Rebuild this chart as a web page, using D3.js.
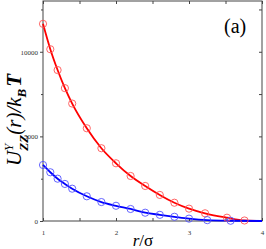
<!DOCTYPE html>
<html><head><meta charset="utf-8">
<script src="https://cdn.jsdelivr.net/npm/d3@7"></script>
<style>body{margin:0;background:#fff}svg{display:block}</style>
</head><body>
<svg id="c" width="266" height="249"></svg>
<script>
const rRed = [1.0,1.1,1.2,1.3,1.4,1.6,1.8,2.0,2.2,2.4,2.6,2.8,3.0,3.22,3.52,3.76];
const uRed = [11650,10150,8920,7850,6940,5480,4300,3410,2660,2070,1540,1080,730,455,195,30];
const rBlue = [1.0,1.1,1.2,1.3,1.4,1.6,1.8,2.0,2.2,2.4,2.6,2.8,3.0,3.25,3.57];
const uBlue = [3310,2880,2500,2190,1910,1460,1120,900,710,490,365,250,140,50,15];
const lineEndR = 4.0, lineEndRedU = 0, lineEndBlueU = 0;
const xTicks = [1,2,3,4];
const yTicks = [0,5000,10000];
const panelLabel = "(a)";

const svg = d3.select("#c");
const L=43,R=262,T=1,B=221;
const x = d3.scaleLinear().domain([1,4]).range([L,R]);
const y = d3.scaleLinear().domain([0,13000]).range([B,T]);
const ax = "#444";
const serif = "Liberation Serif";

svg.append("rect").attr("x",L).attr("y",T).attr("width",R-L).attr("height",B-T)
  .attr("fill","none").attr("stroke",ax).attr("stroke-width",1);

const gl = svg.append("g").attr("transform",`translate(${L},0)`)
  .call(d3.axisLeft(y).tickValues(d3.range(0,13000,2500)).tickSize(3).tickPadding(2).tickFormat(d=>yTicks.includes(d)?d:""));
const gb = svg.append("g").attr("transform",`translate(0,${B})`)
  .call(d3.axisBottom(x).tickValues(d3.range(1,4.01,0.5)).tickSize(-3).tickPadding(9).tickFormat(d=>xTicks.includes(d)?d:""));
const gt = svg.append("g").attr("transform",`translate(0,${T})`)
  .call(d3.axisTop(x).tickValues(d3.range(1,4.01,0.5)).tickSize(-3).tickFormat(""));
const gr = svg.append("g").attr("transform",`translate(${R},0)`)
  .call(d3.axisRight(y).tickValues(d3.range(0,13000,2500)).tickSize(-3).tickFormat(""));
[gl,gb,gt,gr].forEach(g=>{
  g.select(".domain").remove();
  g.attr("font-family",serif).attr("font-size",7);
  g.selectAll(".tick line").attr("stroke",ax);
  g.selectAll("text").attr("font-family",serif).attr("font-size",7).attr("fill","#333");
});
gl.selectAll(".tick").filter(d=>!yTicks.includes(d)).select("line").attr("x2",-2);

const line = d3.line().x(d=>x(d[0])).y(d=>y(d[1])).curve(d3.curveMonotoneX);
const redPts = rRed.map((r,i)=>[r,uRed[i]]).concat([[lineEndR,lineEndRedU]]);
const bluePts = rBlue.map((r,i)=>[r,uBlue[i]]).concat([[lineEndR,lineEndBlueU]]);
svg.append("path").datum(redPts).attr("d",line).attr("fill","none").attr("stroke","#f00").attr("stroke-width",1.8);
svg.append("path").datum(bluePts).attr("d",line).attr("fill","none").attr("stroke","#00f").attr("stroke-width",1.8);

svg.selectAll("circle.r").data(rRed).enter().append("circle")
  .attr("cx",d=>x(d)).attr("cy",(d,i)=>y(uRed[i])).attr("r",3.6)
  .attr("fill","none").attr("stroke","#f55").attr("stroke-width",0.9);
svg.selectAll("circle.b").data(rBlue).enter().append("circle")
  .attr("cx",d=>x(d)).attr("cy",(d,i)=>y(uBlue[i])).attr("r",3.6)
  .attr("fill","none").attr("stroke","#55f").attr("stroke-width",0.9);

svg.append("text").attr("x",224).attr("y",33).attr("font-family",serif).attr("font-size",20).text(panelLabel);

const xl = svg.append("text").attr("x",143).attr("y",246).attr("text-anchor","middle").attr("font-family",serif).attr("font-size",17);
xl.append("tspan").attr("font-style","italic").text("r");
xl.append("tspan").text("/σ");

const yl = svg.append("text").attr("transform","translate(21,120) rotate(-90)").attr("text-anchor","middle")
  .attr("font-family",serif).attr("font-size",21).attr("font-style","italic");
yl.append("tspan").text("U");
yl.append("tspan").attr("font-size",13).attr("dy",-8).text("Y");
yl.append("tspan").attr("font-size",13).attr("dx",-7).attr("dy",15).attr("font-weight","bold").text("ZZ");
yl.append("tspan").attr("dy",-7).text("(r)/k");
yl.append("tspan").attr("font-size",13).attr("dy",5).attr("font-weight","bold").text("B");
yl.append("tspan").attr("dy",-5).attr("dx",2).attr("font-weight","bold").text("T");
</script>
</body></html>
